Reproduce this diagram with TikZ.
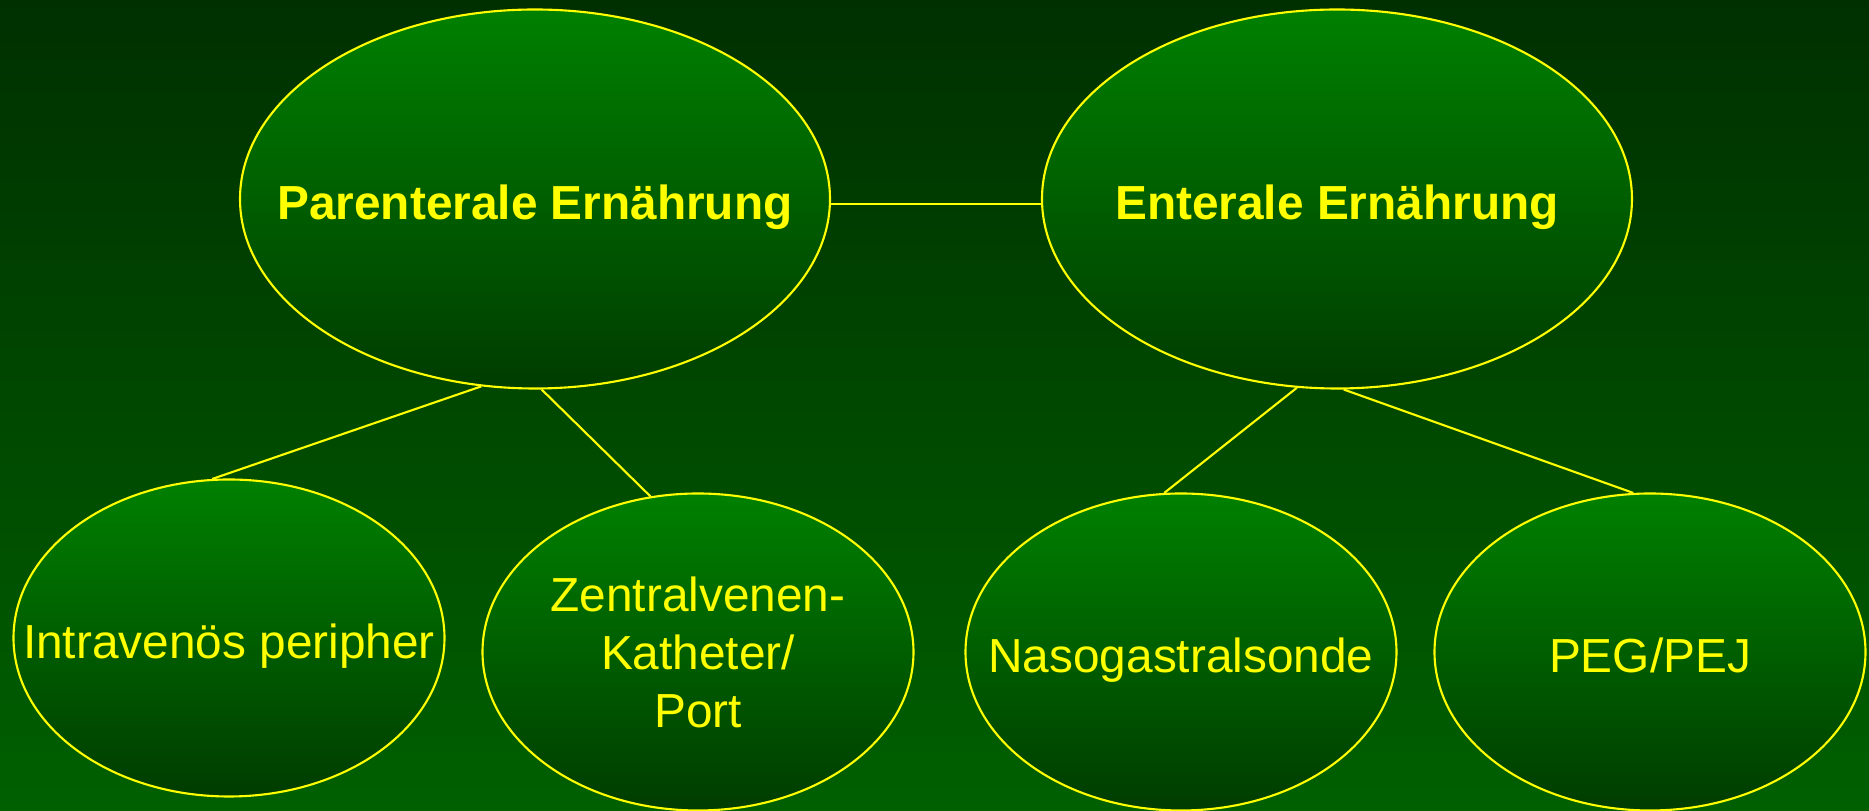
\documentclass[tikz,border=0pt]{standalone}
\usepackage{fontspec}
\setmainfont{Liberation Sans}
\usetikzlibrary{shapes.geometric}
\definecolor{bgtop}{RGB}{0,48,0}
\definecolor{bgbottom}{RGB}{0,96,0}
\definecolor{elltop}{RGB}{0,128,0}
\definecolor{ellbottom}{RGB}{0,60,0}
\definecolor{txtyellow}{RGB}{255,255,0}

\begin{document}
\begin{tikzpicture}[
  every node/.style={font=\fontsize{13.6}{16.5}\selectfont,text=txtyellow},
  main/.style={draw=txtyellow,line width=0.6pt,ellipse,top color=elltop,bottom color=ellbottom,minimum width=5.9cm,minimum height=3.79cm,inner xsep=-1.5cm,inner ysep=0pt,text height=11.4pt,text depth=0pt,font=\fontsize{13.6}{16.5}\selectfont\bfseries},
  sub/.style={draw=txtyellow,line width=0.6pt,ellipse,top color=elltop,bottom color=ellbottom,minimum width=4.31cm,minimum height=3.17cm,inner xsep=-1.5cm,inner ysep=0pt,align=center},
  oneline/.style={text height=11.4pt,text depth=0pt},
  link/.style={draw=txtyellow,line width=0.6pt}
]
\shade[top color=bgtop,bottom color=bgbottom] (0,0) rectangle (18.69,8.11);
\useasboundingbox (0,0) rectangle (18.69,8.11);

\node[main] (par) at (5.35,6.12) {Parenterale Ernährung};
\node[main] (ent) at (13.37,6.12) {Enterale Ernährung};
\node[sub,oneline] (iv) at (2.29,1.73) {Intravenös peripher};
\node[sub] (zvk) at (6.98,1.59) {Zentralvenen-\\Katheter/\\Port};
\node[sub,oneline] (naso) at (11.81,1.59) {Nasogastralsonde};
\node[sub,oneline] (peg) at (16.50,1.59) {PEG/PEJ};

\draw[link] (par.-1.4) -- (ent.181.4);
\draw[link] (par.254.7) -- (iv.96.8);
\draw[link] (par.272.4) -- (zvk.107.3);
\draw[link] (ent.258.6) -- (naso.96.9);
\draw[link] (ent.272.4) -- (peg.96.1);
\end{tikzpicture}
\end{document}
